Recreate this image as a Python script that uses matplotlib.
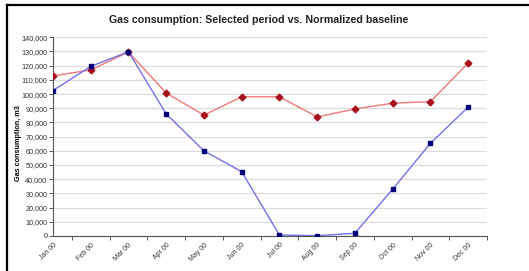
import numpy as np
import matplotlib
matplotlib.use('Agg')
import matplotlib.pyplot as plt
from matplotlib.lines import Line2D

plt.rcParams['font.family'] = ['Liberation Sans', 'DejaVu Sans']

# --- data ---
months = ['Jan 00', 'Feb 00', 'Mar 00', 'Apr 00', 'May 00', 'Jun 00',
          'Jul 00', 'Aug 00', 'Sep 00', 'Oct 00', 'Nov 00', 'Dec 00']
selected = [102500, 119500, 129800, 86000, 60000, 45300,
            700, 200, 1900, 33000, 65300, 90800]
baseline = [112800, 117000, 129600, 100700, 85200, 98100,
            98100, 83900, 89500, 93600, 94600, 121800]
y_ticks = list(range(0, 140001, 10000))

fig = plt.figure(figsize=(5.29, 2.71), dpi=100)
fig.patch.set_facecolor('white')
ax = fig.add_axes([53 / 529, 1 - 236 / 271, 434 / 529, (236 - 37.3) / 271])

x = np.arange(len(months))
ax.plot(x, baseline, color='#f07878', lw=1.0, marker='D', markersize=3.4,
        markerfacecolor='#a8101c', markeredgecolor='#a8101c', zorder=3)
ax.plot(x, selected, color='#7272e6', lw=1.0, marker='s', markersize=3.4,
        markerfacecolor='#00007a', markeredgecolor='#00007a', zorder=4)

ax.set_xlim(0, len(months) - 1)
ax.set_ylim(0, 140000)
ax.set_yticks(y_ticks)
ax.set_yticklabels([f'{v:,}' for v in y_ticks], fontsize=5.2, color='#333333')
ax.yaxis.grid(True, color='#dcdcdc', lw=0.9)
ax.set_axisbelow(True)

# category labels at points, tick marks between them
ax.set_xticks(x)
ax.set_xticklabels(months, rotation=45, ha='right', rotation_mode='anchor',
                   fontsize=5, color='#333333')
ax.tick_params(axis='x', which='major', length=0, pad=4)
ax.set_xticks(np.arange(0, len(months) - 0.4, 0.5)[1::2].tolist() + [0, 11], minor=True)
ax.tick_params(axis='x', which='minor', length=3, color='#555555', width=0.7)
ax.tick_params(axis='y', length=3, color='#555555', width=0.7, pad=1)

for s in ['top', 'right']:
    ax.spines[s].set_visible(False)
for s in ['left', 'bottom']:
    ax.spines[s].set_color('#555555')
    ax.spines[s].set_linewidth(0.8)

ax.set_ylabel('Gas consumption, m3', fontsize=5.2, fontweight='bold')
ax.yaxis.set_label_coords((21.5 - 53) / 434, 0.468)
fig.text(259 / 529, 1 - 20 / 271, 'Gas consumption: Selected period vs. Normalized baseline',
         ha='center', va='center', fontsize=7.7, fontweight='bold', color='#222222')

# black frame (left and top edges)
fig.add_artist(Line2D([7 / 529, 7 / 529], [0, 1 - 5 / 271], transform=fig.transFigure,
                      color='black', lw=1.6))
fig.add_artist(Line2D([7 / 529, 1], [1 - 5 / 271, 1 - 5 / 271], transform=fig.transFigure,
                      color='black', lw=1.6))

fig.savefig('out.png', dpi=100, facecolor='white')
